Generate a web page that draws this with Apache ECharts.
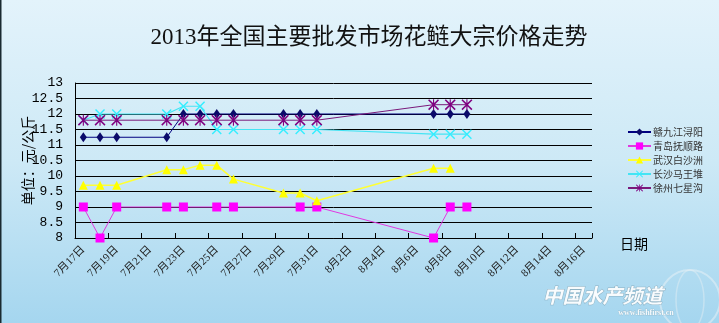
<!DOCTYPE html>
<html>
<head>
<meta charset="utf-8">
<script src="https://cdn.jsdelivr.net/npm/echarts@6/dist/echarts.min.js"></script>
<style>
  html, body { margin: 0; padding: 0; }
  #chart { width: 719px; height: 323px; }
</style>
</head>
<body>
<div id="chart"></div>
<script>
// Daily date axis, 7/17 through 8/16
const categories = [
  '7月17日','7月18日','7月19日','7月20日','7月21日','7月22日','7月23日','7月24日',
  '7月25日','7月26日','7月27日','7月28日','7月29日','7月30日','7月31日',
  '8月1日','8月2日','8月3日','8月4日','8月5日','8月6日','8月7日','8月8日',
  '8月9日','8月10日','8月11日','8月12日','8月13日','8月14日','8月15日','8月16日'
];

// Prices (元/公斤); null = no quote that day
const jiujiang = [11.25,11.25,11.25,null,null,11.25,12,12,12,12,null,null,12,12,12,
  null,null,null,null,null,null,12,12,12,null,null,null,null,null,null,null];
const qingdao = [9,8,9,null,null,9,9,null,9,9,null,null,null,9,9,
  null,null,null,null,null,null,8,9,9,null,null,null,null,null,null,null];
const wuhan = [9.7,9.7,9.7,null,null,10.2,10.2,10.35,10.35,9.9,null,null,9.45,9.45,9.2,
  null,null,null,null,null,null,10.25,10.25,null,null,null,null,null,null,null,null];
const changsha = [11.8,12,12,null,null,12,12.25,12.25,11.5,11.5,null,null,11.5,11.5,11.5,
  null,null,null,null,null,null,11.35,11.35,11.35,null,null,null,null,null,null,null];
const xuzhou = [11.8,11.8,11.8,null,null,11.8,11.8,11.8,11.8,11.8,null,null,11.8,11.8,11.8,
  null,null,null,null,null,null,12.3,12.3,12.3,null,null,null,null,null,null,null];

const seriesNames = ['赣九江浔阳','青岛抚顺路','武汉白沙洲','长沙马王堆','徐州七星沟'];

// Marker shapes
const crossPath = 'path://M2,0L10,8L18,0L20,2L12,10L20,18L18,20L10,12L2,20L0,18L8,10L0,2Z';
const asteriskPath = 'path://M2,0L10,8L18,0L20,2L12,10L20,18L18,20L10,12L2,20L0,18L8,10L0,2Z' +
  'M9,0L11,0L11,20L9,20Z';

function lineSeries(name, data, lineColor, markColor, symbol, size, width) {
  return {
    name: name,
    type: 'line',
    data: data,
    connectNulls: true,
    symbol: symbol,
    symbolSize: size,
    showAllSymbol: true,
    lineStyle: { color: lineColor, width: width },
    itemStyle: { color: markColor },
    emphasis: { disabled: true },
    animation: false
  };
}

const chart = echarts.init(document.getElementById('chart'));
chart.setOption({
  backgroundColor: {
    type: 'linear', x: 0, y: 0, x2: 0, y2: 1,
    colorStops: [
      { offset: 0, color: '#e3f3fb' },
      { offset: 0.5, color: '#cde9f6' },
      { offset: 1, color: '#a5d6ef' }
    ]
  },
  title: {
    text: '2013年全国主要批发市场花鲢大宗价格走势',
    left: 364, top: 21, textAlign: 'center',
    textStyle: {
      fontFamily: '"Liberation Serif", "Noto Sans CJK SC", serif',
      fontSize: 23, fontWeight: 'normal', color: '#111'
    }
  },
  legend: {
    orient: 'vertical',
    left: 622, top: 122,
    itemWidth: 23, itemHeight: 9, itemGap: 4,
    data: seriesNames,
    textStyle: { fontFamily: '"Noto Sans CJK SC", sans-serif', fontSize: 10, color: '#333', padding: [0, 0, 0, -3] }
  },
  grid: { left: 75, right: 127, top: 83, bottom: 85, containLabel: false },
  xAxis: {
    type: 'category',
    data: categories,
    boundaryGap: true,
    axisLine: { lineStyle: { color: '#000', width: 1 } },
    axisTick: { show: true, inside: true, length: 5, interval: 1, lineStyle: { color: '#000' } },
    axisLabel: {
      interval: 1, rotate: 45, margin: 10,
      fontFamily: '"Liberation Serif", "Noto Sans CJK SC", serif',
      fontSize: 11, color: '#222'
    },
    splitLine: { show: false }
  },
  yAxis: {
    type: 'value',
    min: 8, max: 13, interval: 0.5,
    name: '单位：元/公斤',
    nameLocation: 'middle', nameRotate: 90, nameGap: 40,
    nameMoveOverlap: false,
    nameTextStyle: { fontFamily: '"Noto Sans CJK SC", sans-serif', fontSize: 14, color: '#000' },
    axisLine: { show: true, lineStyle: { color: '#000', width: 1 } },
    axisTick: { show: false },
    axisLabel: {
      margin: 12,
      fontFamily: '"Liberation Mono", monospace',
      fontSize: 13, color: '#000'
    },
    splitLine: { show: true, lineStyle: { color: '#000', width: 1 } }
  },
  series: [
    lineSeries(seriesNames[0], jiujiang, '#000080', '#0a0a6a', 'diamond', [7, 10], 1),
    lineSeries(seriesNames[1], qingdao, '#e038e0', '#ff00ff', 'rect', 9, 1),
    lineSeries(seriesNames[2], wuhan, '#ffff33', '#ffff00', 'triangle', 9, 1.5),
    lineSeries(seriesNames[3], changsha, '#44e4f4', '#33eeff', crossPath, 10, 1.2),
    lineSeries(seriesNames[4], xuzhou, '#7a1a7a', '#800080', asteriskPath, 11, 1)
  ],
  graphic: [
    { type: 'rect', left: 0, top: 0, shape: { width: 1.5, height: 323 }, style: { fill: '#1a2a30' }, silent: true },
    {
      type: 'text', left: 620, top: 237,
      style: { text: '日期', font: '14px "Noto Sans CJK SC", sans-serif', fill: '#000' }
    },
    {
      type: 'circle', shape: { cx: 690, cy: 300, r: 30 },
      style: { fill: 'none', stroke: 'rgba(230,240,245,0.55)', lineWidth: 2 }, silent: true
    },
    {
      type: 'ellipse', shape: { cx: 690, cy: 300, rx: 14, ry: 30 },
      style: { fill: 'none', stroke: 'rgba(230,240,245,0.45)', lineWidth: 1.5 }, silent: true
    },
    {
      type: 'text', left: 542, top: 285,
      style: {
        text: '中国水产频道',
        font: 'italic bold 20px "Noto Sans CJK SC", sans-serif',
        fill: 'rgba(255,255,255,0.92)',
        stroke: 'rgba(120,150,165,0.6)', lineWidth: 1
      }
    },
    {
      type: 'text', left: 618, top: 309,
      style: {
        text: 'www.fishfirst.cn',
        font: 'bold 8px "Liberation Serif", serif',
        fill: 'rgba(255,255,255,0.9)',
        stroke: 'rgba(120,150,165,0.5)', lineWidth: 0.5
      }
    }
  ]
});
</script>
</body>
</html>
